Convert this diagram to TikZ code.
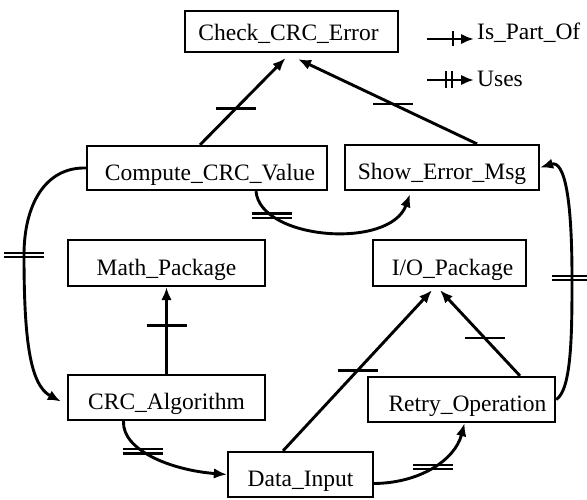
\documentclass[tikz,border=0pt]{standalone}
\usepackage{fontspec}
\setmainfont{Liberation Serif}
\usetikzlibrary{calc,arrows.meta}
\tikzset{
  box/.style={draw,line width=2.3pt,inner sep=0pt,text height=24pt,text depth=0pt,font=\fontsize{23.5}{27}\selectfont},
  conn/.style={line width=2.9pt,-{Latex[length=13pt,width=10.5pt]}},
  tickline/.style={line width=2.5pt},
  lbl/.style={inner sep=0pt,anchor=west,font=\fontsize{23.5}{27}\selectfont}
}
\begin{document}
\begin{tikzpicture}[x=1pt,y=-1pt]
\useasboundingbox (0,0) rectangle (587,499);
% boxes
\node[box,text height=17pt,minimum width=213pt,minimum height=41pt] (check) at (291.5,31.5) {Check\_CRC\_Error\hspace*{6pt}};
\node[box,minimum width=240pt,minimum height=44pt] (compute) at (207,168) {\hspace*{6pt}Compute\_CRC\_Value};
\node[box,minimum width=194pt,minimum height=45pt] (show) at (442,167.5) {Show\_Error\_Msg};
\node[box,minimum width=197pt,minimum height=46pt] (math) at (166.5,263) {Math\_Package};
\node[box,minimum width=153pt,minimum height=46pt] (io) at (449.5,263) {\hspace*{6pt}I/O\_Package};
\node[box,minimum width=197pt,minimum height=45pt] (crc) at (166.5,397.5) {CRC\_Algorithm};
\node[box,minimum width=145pt,minimum height=45pt] (data) at (300.5,474.5) {Data\_Input};
\node[box,minimum width=187pt,minimum height=45pt] (retry) at (461.5,399.5) {\hspace*{12pt}Retry\_Operation};
% legend
\coordinate (l1a) at (427,39); \coordinate (l1b) at (474,39); \coordinate (l1m) at (453,39);
\coordinate (l2a) at (427,80); \coordinate (l2b) at (474,80); \coordinate (l2m) at (449,80);
\draw[conn] (l1a) -- (l1b);
\draw[tickline] ([yshift=-7pt]l1m) -- ([yshift=8pt]l1m);
\draw[conn] (l2a) -- (l2b);
\draw[tickline] ([shift={(-3pt,-8pt)}]l2m) -- ([shift={(-3pt,9pt)}]l2m);
\draw[tickline] ([shift={(3pt,-8pt)}]l2m) -- ([shift={(3pt,9pt)}]l2m);
\node[lbl] (lt1) at (477,33) {Is\_Part\_Of};
\node[lbl] (lt2) at (477,79) {Uses};
% Is_Part_Of connectors
\draw[conn] ($(compute.north)+(-7,0)$) -- coordinate[pos=0.42] (t1) ($(check.south)+(-6,5)$);
\draw[conn] ($(show.north)+(35,0)$) -- coordinate[pos=0.47] (t2) ($(check.south)+(6.5,6)$);
\draw[conn] (crc.north) -- coordinate[pos=0.56] (t3) (math.south);
\draw[conn] ($(data.north)+(-17.5,0)$) -- coordinate[pos=0.5] (t4) ($(io.south)+(-17.5,3)$);
\draw[conn] ($(retry.north)+(58.5,0)$) -- coordinate[pos=0.44] (t5) ($(io.south)+(-9.5,3)$);
\foreach \t in {t1,t2,t3,t4,t5}
  \draw[tickline] ([xshift=-20pt]\t) -- ([xshift=20pt]\t);
% Uses connectors
\draw[conn] ($(compute.south)+(49,0)$) .. controls (260,240) and (390,250) .. coordinate[pos=0.2] (u1) ($(show.south)+(-32,3)$);
\draw[conn] (compute.west) .. controls (45,167) and (24,205) .. (24,255) coordinate (u2)
  .. controls (24,340) and (30,385) .. ($(crc.west)+(-6,4)$);
\draw[conn] ($(crc.south)+(-43,0)$) .. controls (122,450) and (170,470) .. coordinate[pos=0.4] (u3) (data.west);
\draw[conn] ($(data.east)+(0,9)$) .. controls (420,483) and (455,460) .. coordinate[pos=0.5] (u4) ($(retry.south)+(3,0)$);
\draw[conn] (retry.east) .. controls (572,390) and (572,330) .. (572,278) coordinate (u5)
  .. controls (572,200) and (565,160) .. (show.east);
\foreach \u in {u1,u2,u3,u4,u5}{
  \draw[tickline] ([shift={(-20pt,-2.2pt)}]\u) -- ([shift={(20pt,-2.2pt)}]\u);
  \draw[tickline] ([shift={(-20pt,2.2pt)}]\u) -- ([shift={(20pt,2.2pt)}]\u);
}
\end{tikzpicture}
\end{document}
